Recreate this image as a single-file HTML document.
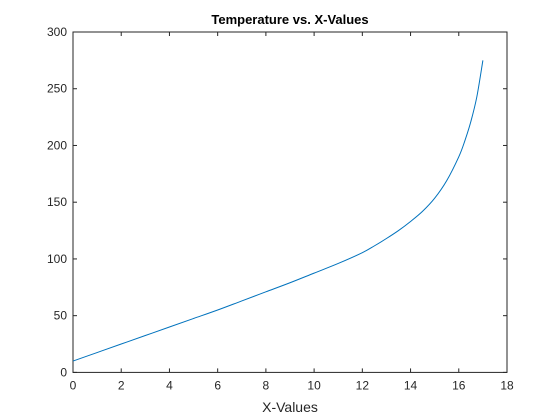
<!DOCTYPE html>
<html><head><meta charset="utf-8"><style>
body{margin:0;background:#fff;}
svg{display:block;font-family:"Liberation Sans",Arial,sans-serif;}
</style></head><body>
<svg id="chart" width="560" height="420"></svg>
<script>
const xValues=[0,1,2,3,4,5,6,7,8,9,10,11,12,12.5,13,13.5,14,14.5,15,15.5,16,16.25,16.5,16.75,17];
const tempValues=[10,17.5,25,32.5,40,47.5,55,63,71,79,87.5,96,105.5,111.5,118,125,133,142,153.5,169,190,204,221,243,275];
const xTicks=[0,2,4,6,8,10,12,14,16,18];
const yTicks=[0,50,100,150,200,250,300];
const L=73,R=507,T=32,B=372.4;
const sx=v=>L+(v-0)/(18-0)*(R-L);
const sy=v=>B-(v-0)/(300-0)*(B-T);
const svg=document.getElementById('chart');
const NS='http://www.w3.org/2000/svg';
function mk(tag,attrs,parent){const e=document.createElementNS(NS,tag);for(const k in attrs)e.setAttribute(k,attrs[k]);(parent||svg).appendChild(e);return e;}
const box=mk('rect',{x:L,y:T,width:R-L,height:B-T,fill:'#fff',stroke:'#262626','stroke-width':1});


xTicks.forEach(t=>{
  const x=sx(t);
  mk('line',{x1:x,x2:x,y1:B,y2:B-4,stroke:'#262626'});
  mk('line',{x1:x,x2:x,y1:T,y2:T+4,stroke:'#262626'});
  const tx=mk('text',{x:x,y:B+17,'text-anchor':'middle','font-size':12,fill:'#262626'});
  tx.textContent=t;
  
  
});
yTicks.forEach(t=>{
  const y=sy(t);
  mk('line',{x1:L,x2:L+4,y1:y,y2:y,stroke:'#262626'});
  mk('line',{x1:R,x2:R-4,y1:y,y2:y,stroke:'#262626'});
  const tx=mk('text',{x:L-6,y:y+4,'text-anchor':'end','font-size':12,fill:'#262626'});
  tx.textContent=t;
  
  
});
const P=xValues.map((x,i)=>[sx(x),sy(tempValues[i])]);
let d='M'+P[0][0].toFixed(2)+','+P[0][1].toFixed(2);
for(let i=0;i<P.length-1;i++){
  const p0=P[Math.max(0,i-1)],p1=P[i],p2=P[i+1],p3=P[Math.min(P.length-1,i+2)];
  const c1=[p1[0]+(p2[0]-p0[0])/6,p1[1]+(p2[1]-p0[1])/6];
  const c2=[p2[0]-(p3[0]-p1[0])/6,p2[1]-(p3[1]-p1[1])/6];
  d+=' C'+c1.map(v=>v.toFixed(2)).join(',')+' '+c2.map(v=>v.toFixed(2)).join(',')+' '+p2.map(v=>v.toFixed(2)).join(',');
}
const line=mk('path',{d:d,fill:'none',stroke:'#0072BD','stroke-width':1});


const title=mk('text',{x:(L+R)/2,y:24,'text-anchor':'middle','font-size':13,'font-weight':'bold',fill:'#000'});
title.textContent='Temperature vs. X-Values';


const xl=mk('text',{x:(L+R)/2,y:412,'text-anchor':'middle','font-size':14,fill:'#262626'});
xl.textContent='X-Values';


</script>
</body></html>
